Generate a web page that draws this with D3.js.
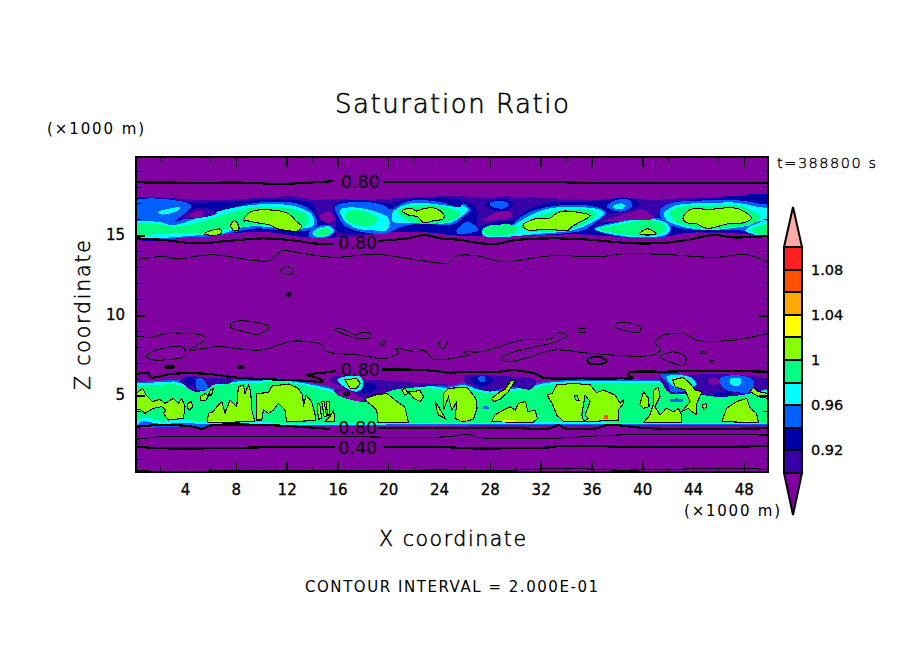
<!DOCTYPE html>
<html><head><meta charset="utf-8">
<style>html,body{margin:0;padding:0;background:#fff}svg{display:block}text{font-family:"DejaVu Sans",sans-serif;fill:#000}</style>
<script src="https://cdn.jsdelivr.net/npm/d3@7"></script></head><body>
<svg id="chart" width="904" height="654"></svg>
<script>
// ---------- data: all positions are [x km, z km] ----------
const xMajor=[4,8,12,16,20,24,28,32,36,40,44,48];
const xMinor=[2,6,10,14,18,22,26,30,34,38,42,46];
const zMajor=[5,10,15];
const zMinor=[1,2,3,4,6,7,8,9,11,12,13,14,16,17,18,19];
const levels=[0.90,0.92,0.94,0.96,0.98,1.00,1.02,1.04,1.06,1.08,1.10];
const levelLabels=[[1.08,"1.08"],[1.04,"1.04"],[1.00,"1"],[0.96,"0.96"],[0.92,"0.92"]];
const colours=["#3800a8","#0000a8","#0060ff","#00ffff","#00ff80","#88ff00","#ffff00","#ffa800","#ff5000","#ff2020"];
const below="#8000a0", above="#ffa8a8";
const contourLabels=[[17.8,18.3,"0.80"],[17.6,14.5,"0.80"],[17.8,6.55,"0.80"],[17.6,2.92,"0.80"],[17.6,1.68,"0.40"]];

const indigoAreas=[
[[0.14,17.4],[2.3,17.35],[4.9,17.2],[7.5,17.2],[10.2,17.35],[12.8,17.4],[14.1,17.2],[15.4,17.25],[18,17.2],[20.7,17.3],[23.3,17.4],[27.5,17.4],[30.1,17.4],[32.7,17.3],[36,17.2],[39.3,17.3],[40.6,17.2],[43.2,17.3],[45.9,17.4],[49.9,17.45],[50.3,17.45],[50.3,15.0],[49.9,15.0],[47.2,15.1],[44.6,15.15],[41.9,15.3],[39.3,14.95],[36.7,14.95],[33.4,15.1],[30.1,15.0],[27.5,14.95],[24.9,15.0],[23.3,15.15],[20.7,15.2],[18,14.95],[14.1,14.85],[12.8,15.1],[10.2,15.2],[7.5,15.1],[4.9,14.9],[2.3,14.85],[0.14,14.9],[-0.3,14.9],[-0.3,17.4]]];
const darkAreas=[
[[-0.3,17.19],[2.3,17.15],[4.9,17.02],[7.5,17.08],[10.2,17.19],[12.8,17.19],[14.1,16.87],[14.4,16.14],[15.4,15.6],[15.9,14.95],[13.6,14.85],[10.2,15.2],[7.5,15.1],[4.9,14.9],[-0.3,14.9]],
[[15.7,16.9],[17.5,17.2],[19.9,17.0],[22.2,17.3],[25.7,17.2],[26.5,17.0],[27,16.5],[27,15.5],[27.5,15.0],[24.9,15.0],[23.3,15.15],[20.7,15.2],[18,15.05],[16,15.2],[15.9,16]],
[[27.6,16.87],[28.8,17.29],[29.9,16.98],[29.3,16.52],[28.2,16.56]],
[[27.1,15.1],[27.1,15.48],[28.3,15.77],[29.9,15.98],[30.9,16.56],[32.7,17.02],[35.4,17.08],[37.2,17.19],[38.3,17.35],[39.4,17.19],[39.8,16.87],[38.8,16.52],[37.2,16.25],[36.4,15.56],[38,16.04],[39.8,16.25],[41.1,16.14],[41.9,16.56],[43.2,17.08],[45.9,17.29],[50.3,17.35],[50.3,15.0],[47.2,15.2],[43.2,15.1],[42.2,14.94],[40.6,14.79],[38.5,14.85],[35.4,15.06],[32.7,15],[30.1,14.94],[27.5,14.94]]];
const blueAreas=[
[[-0.3,17.02],[4.1,17.02],[4.5,16.77],[3.2,15.83],[4.9,16.25],[6.5,16.35],[8.6,16.87],[10.7,17.08],[12.8,16.98],[14,16.46],[14.4,15.73],[13.8,15.31],[11.5,15.31],[9.6,15.42],[8.1,15.21],[6.5,14.94],[4.9,14.89],[-0.3,14.94]],
[[15.8,16.77],[17.5,17.08],[19.6,16.87],[20.2,16.6],[21.2,17.02],[22.2,17.19],[24.3,17.02],[25.7,16.67],[25.9,16.98],[26.5,16.56],[25.9,16.14],[25.5,15.83],[24.9,15.62],[23.3,15.69],[21.5,15.62],[20.4,15.31],[19.9,15.1],[17.8,15.21],[16.5,15.62],[16,16.25]],
[[13.8,15.21],[14.5,15.56],[15.4,15.62],[15.8,15.31],[15.4,14.89],[14.4,14.79],[13.8,14.89]],
[[30,15.83],[30.9,16.35],[32.7,16.77],[35.4,16.87],[36.7,16.67],[37.2,16.35],[36.4,15.83],[35.4,15.31],[33.8,15.1],[31.2,15],[27.5,14.94],[27.4,15.31],[28.3,15.62],[29.9,15.69]],
[[36.2,15.41],[38,15.83],[39.8,16.14],[41.7,15.94],[42.3,15.52],[42,15],[40.6,14.79],[38.5,14.89],[37,15.1]],
[[41.4,16.56],[42.2,16.98],[44.3,17.14],[47.4,17.19],[49,16.98],[50.3,16.73],[50.3,15],[48.5,15.2],[47.4,15.31],[44.8,15.31],[43.2,15.41],[42.2,15.62],[41.5,16.04]],
[[25.4,15.31],[26.2,15.83],[27.1,15.31],[26.2,15.1],[25.4,15.1]],
[[37.2,16.77],[38,17.19],[39,17.19],[39.2,16.77],[38.3,16.46]],
[[28,16.98],[28.8,17.14],[29.5,16.94],[29.1,16.67],[28.3,16.73]]];
const cyanAreas=[
[[-0.3,15.73],[1.8,15.83],[3.1,15.62],[4.9,16.04],[7,16.56],[8.6,16.81],[10.7,16.94],[12.8,16.77],[14,16.25],[14.1,15.62],[13.3,15.41],[11.5,15.41],[9.6,15.56],[8.1,15.41],[7,15.1],[5.4,15],[-0.3,15]],
[[1.9,16.46],[2.6,16.62],[3.6,16.73],[3.5,16.56],[2.6,16.31],[2,16.31]],
[[16.2,16.56],[17,16.73],[18.6,16.56],[19.9,16.14],[20.1,15.83],[19.9,15.31],[18.6,15.31],[17.5,15.41],[16.5,15.94]],
[[20.3,16.35],[21.2,16.87],[22.5,17.02],[24.3,16.87],[25.7,16.77],[25.7,16.87],[26.3,16.6],[25.7,16.14],[24.9,15.77],[23.3,15.73],[21.5,15.77],[20.4,15.83]],
[[14,15.1],[14.6,15.46],[15.4,15.52],[15.7,15.27],[15.3,14.98],[14.4,14.89]],
[[30.1,15.73],[31.2,16.25],[32.7,16.67],[35.4,16.73],[36.7,16.56],[37,16.35],[35.9,15.73],[34.6,15.31],[32.2,15.1],[27.5,14.96],[27.4,15.31],[28,15.6],[29.9,15.64]],
[[36.3,15.35],[38.5,15.83],[40.4,16.04],[41.9,15.73],[42.2,15.31],[41.7,15],[39.6,14.85],[38,15]],
[[41.7,16.35],[42.7,16.87],[44.8,16.98],[47.4,17.02],[49,16.77],[50.3,16.56],[50.3,16.04],[49,15.83],[48.5,15.62],[46.9,15.41],[45.1,15.31],[43,15.56],[41.9,15.94]],
[[48.1,15.31],[50.3,15.9],[50.3,15],[48.5,15.1]],
[[37.7,16.77],[38.3,16.98],[38.65,16.87],[38.5,16.67],[38,16.6]]];
const greenAreas=[
[[-0.3,15.62],[1.5,15.73],[3.1,15.52],[5.2,15.83],[7.3,16.35],[8.9,16.67],[11,16.77],[12.8,16.56],[13.7,16.14],[13.6,15.62],[12.8,15.48],[9.6,15.62],[8.1,15.48],[6.8,15.31],[5.4,15.1],[4.1,15.15],[-0.3,15.15]],
[[16.6,16.35],[17.5,16.56],[18.6,16.35],[19.2,15.94],[18.6,15.56],[17.5,15.62],[16.7,15.94]],
[[20.7,16.46],[21.5,16.77],[23.3,16.87],[24.9,16.67],[25.7,16.35],[25.5,16.1],[24.6,15.83],[22.8,15.69],[21.2,16.04]],
[[14.2,15.1],[14.6,15.35],[15.3,15.4],[15.5,15.2],[15.2,15.04],[14.4,14.98]],
[[27.4,15.31],[28,15.56],[29.9,15.62],[30.3,15.41],[29.7,15.06],[27.8,15],[27.4,15.2]],
[[30.4,15.52],[31.4,16.04],[33,16.46],[35.4,16.6],[36.4,16.35],[35.9,15.94],[34.6,15.41],[32.7,15.2],[31.2,15.2]],
[[36.6,15.35],[38.5,15.69],[40.4,15.94],[41.7,15.69],[41.9,15.31],[41.1,15],[39.7,14.94],[38,15.1]],
[[42.2,16.46],[43.2,16.77],[45.1,16.81],[47.4,16.87],[48.5,16.56],[49.3,16.14],[48.8,15.73],[46.9,15.48],[45.1,15.35],[43,15.69],[42.3,16.04]],
[[48.5,15.31],[50.3,15.69],[50.3,15.06],[48.8,15.14]]];
const purpleHoles=[
[[27.5,15.89],[28.3,16.35],[29.6,16.46],[29.7,16.14],[28.5,15.94]],
[[37,15.83],[38.8,16.35],[40.1,16.56],[40.9,16.04],[39,15.94]],
[[14.8,16.35],[15.4,16.46],[15.8,15.94],[15.2,15.77],[14.6,16.04]]];
const indigoHoles=[[[3.6,16.04],[4.9,16.67],[6.2,16.56],[6.5,16.35],[4.9,16.04]]];
const purpleInHole=[[[4.3,16.25],[5.3,16.5],[5.4,16.25],[4.7,16.04]]];

const lowBlueStrip=[[0.14,5.8],[3.1,5.95],[5.4,5.8],[6.5,5.9],[8.6,5.95],[11.5,6.04],[13.3,5.85],[15.4,5.5],[15.9,5.35],[17.8,5.1],[19.9,5.45],[21.5,5.75],[23.3,5.68],[24.6,5.52],[25.9,5.75],[27,5.45],[28.8,5.35],[31.2,5.65],[32.5,5.85],[34.1,5.94],[38,6],[41.4,5.94],[42.3,5.6],[43.2,5.3],[44.8,5.4],[45.9,5.2],[47.7,5.3],[49.9,5.4],[49.9,3.1],[38,3.1],[27.5,3.1],[15.9,3.05],[7,3.05],[0.14,2.95]];
const lowCyanStrip=[[0.14,5.72],[3.1,5.85],[3.9,5.7],[4.5,5.6],[5.4,5.7],[6.5,5.8],[8.6,5.86],[11.5,5.95],[13.3,5.75],[15.4,5.4],[15.9,5.25],[17,5.2],[17.8,5.0],[18.6,5.15],[19.9,5.36],[21.5,5.65],[23.3,5.58],[24.6,5.42],[25.9,5.65],[27,5.35],[28,5.25],[28.8,5.25],[31.2,5.55],[32.5,5.77],[34.1,5.86],[38,5.9],[41.4,5.85],[42.3,5.5],[43.2,5.2],[44.8,5.3],[45.9,5.1],[47.7,5.2],[49.9,5.3],[49.9,3.17],[43.2,3.17],[38,3.17],[32.7,3.22],[27.5,3.17],[21.5,3.17],[15.9,3.13],[12,3.13],[9.6,3.22],[7,3.13],[4.1,3.25],[2,3.2],[0.6,3.4],[0.14,3.05]];
const lowGreenStrip=[[0.14,5.56],[3.1,5.69],[3.9,5.52],[4.66,5.21],[5.45,5.42],[6.5,5.63],[8.6,5.73],[11.5,5.84],[13.3,5.63],[15.4,5.21],[15.9,5.1],[17.8,4.59],[18.6,4.9],[19.9,5.21],[21.5,5.52],[23.3,5.42],[24.6,5.27],[24.9,5.42],[25.9,5.52],[27,5.21],[28,5.1],[28.8,5.1],[31.2,5.42],[32.5,5.63],[34.1,5.73],[38,5.77],[41.4,5.73],[42.1,5.31],[43.2,4.94],[44.8,5.1],[45.9,4.9],[47.7,5],[49.9,5.1],[49.9,3.27],[43.2,3.27],[38,3.27],[32.7,3.34],[27.5,3.27],[21.5,3.27],[15.9,3.23],[12,3.23],[9.6,3.34],[7,3.23],[4.1,3.44],[2,3.4],[0.7,3.65],[0.14,3.23]];
const lowIndigoPatches=[
[[3.6,5.94],[4.1,6.19],[6,6.04],[7.8,5.98],[7.5,5.73],[6.2,5.63],[5.7,5.32],[4.7,5.21],[4.1,5.52]],
[[15.3,6.04],[16.5,6.19],[18.6,5.94],[20.4,5.9],[22.8,5.73],[24.9,5.69],[22.8,5.52],[20.4,5.32],[19.1,4.9],[18.3,4.59],[17.8,4.59],[16,5],[15.7,5.32],[16.5,5.42],[15.7,5.73]],
[[25.9,6.15],[27.5,6.25],[29.6,6.15],[31.2,6.04],[31.7,5.84],[31.2,5.36],[29.6,5.52],[28,5.21],[27,5.42],[26.2,5.73]],
[[41.35,6.31],[43.2,6.25],[45.3,6.31],[47.4,6.25],[49.9,5.94],[49.9,5.52],[48.5,5.1],[47.2,4.94],[45.6,4.9],[44,5.1],[42.2,5.1],[41.7,5.52]]];
const lowDarkPatches=[
[[3.9,5.9],[4.4,6.15],[4.8,5.94],[4.66,5.69],[4.1,5.69]],
[[18,5.69],[18.8,5.73],[19.1,5.42],[18,5.1]],
[[26.5,6.04],[27.5,6.19],[28.3,5.94],[27.5,5.52],[26.7,5.73]],
[[45.6,5.1],[47.05,5.21],[46.9,4.94],[45.9,4.9]]];
const lowBluePatches=[
[[4.9,5.98],[5.3,6.04],[5.8,5.42],[5,5.32]],
[[27.1,6.1],[27.6,6.19],[27.6,5.84],[27.2,5.84]],
[[41.4,6.25],[42.3,6.31],[43.8,6.15],[44.3,5.63],[43.2,5.21],[42.3,5.21],[42,5.73]],
[[46.1,6.04],[48,6.19],[48.8,5.84],[48.5,5.21],[47.2,5.21],[46.4,5.42]],
[[42.2,4.73],[43.2,4.73],[43.2,4.6],[42.2,4.6]],
[[27.5,4.27],[27.9,4.27],[27.9,4.15],[27.5,4.15]]];
const lowCyanPatches=[
[[16,5.98],[17.8,6.15],[18,5.52],[17.5,5.21],[16.7,5.42]],
[[41.9,6.15],[43.8,6.1],[44.2,5.63],[42.5,5.52]],
[[46.9,5.98],[47.7,6.04],[47.7,5.63],[47,5.63]]];
const lowGreenPatches=[
[[16.5,5.9],[17.65,6.04],[17.8,5.63],[17.4,5.31],[16.9,5.52]],
[[42.5,5.94],[43.6,6.04],[44,5.63],[42.7,5.56]]];
const lowPurplePatches=[
[[15.9,5.1],[16.7,5.31],[18,4.69],[17.8,4.59],[16.5,4.86]],
[[45.2,5.94],[45.9,6.04],[46.1,5.73],[45.3,5.69]]];

const limeUpper=[
[[8.6,15.89],[9.2,16.46],[12,16.39],[12.8,15.83],[13.2,15.52],[12.7,15.21],[12.3,15.25],[11.2,15.41],[10.7,15.62],[9.6,15.77],[8.9,15.89]],
[[5.5,15.06],[6,15.27],[6.8,15.35],[6.8,15.06]],
[[7.6,15.62],[7.9,15.89],[8.2,15.62],[8.2,15.31],[7.8,15.31]],
[[21.1,16.52],[21.85,16.67],[22.2,16.5],[22.9,16.67],[23.7,16.67],[24.4,16.25],[24.3,16],[23.55,15.89],[22.8,15.77],[22.3,16.14],[21.6,16.25]],
[[30.6,15.62],[31.3,15.94],[31.75,16.04],[32.7,16.04],[33.3,16.39],[33.9,16.5],[35.9,16.2],[35.4,15.94],[34.45,15.52],[34.1,15.27],[33.3,15.31],[32.2,15.35],[31,15.31]],
[[39.8,15.06],[40.4,15.39],[41.1,15.06]],
[[43.2,16.04],[43.8,16.6],[45.3,16.6],[46.9,16.71],[47.7,16.6],[48.6,16.04],[48,15.77],[46.7,15.69],[45.1,15.41],[44.3,15.69],[43.5,15.77]]];
const limeLower=[
[[0.14,4.06],[0.14,5.1],[0.67,5.42],[0.93,5],[1.45,4.59],[2,4.73],[2.43,4.48],[3.08,4.79],[3.47,4.48],[3.74,4.79],[4,4.27],[3.87,3.54],[2.69,3.44],[2.3,3.86],[2.5,4.06],[2.16,4.27],[1.5,4.17],[0.85,3.86],[0.46,4.1]],
[[4.2,4.48],[4.5,4.59],[4.6,4.27],[4.34,4.06],[4.2,4.17]],
[[5.2,4.9],[5.6,5.1],[5.84,4.9],[5.6,4.65],[5.23,4.65]],
[[6,5.31],[6.23,5.42],[6.1,5],[5.84,5]],
[[5.76,3.27],[5.84,3.86],[6.23,3.96],[6.5,4.27],[6.9,4.59],[7.15,3.86],[7.54,4.69],[8.07,4.27],[8.2,5.52],[8.6,5.63],[8.72,5.1],[8.99,5.63],[9.17,5.21],[9.25,4.06],[9.5,3.34]],
[[9.6,3.44],[9.64,5.1],[10.56,5.15],[10.82,5.56],[12.14,5.69],[12.92,5.42],[13.27,5],[13.32,4.27],[13.53,5],[13.97,4.59],[14.3,3.6],[14.3,3.4],[12,3.34],[11.87,4.06],[11.35,4.48],[10.96,4.06],[10.56,3.86],[10.17,4.06],[10.04,3.44]],
[[14.4,4.48],[14.6,4.48],[14.76,3.54],[14.5,3.48]],
[[14.76,4.59],[14.95,4.59],[15.15,3.65],[14.95,3.65]],
[[15.15,4.59],[15.4,4.59],[15.4,3.75],[15.2,3.75]],
[[15,3.34],[15.4,3.65],[15.7,4.06],[15.8,3.34]],
[[18.2,4.79],[19,5],[19.9,5.1],[20.7,4.59],[21.3,4.27],[21.6,3.27],[19.2,3.27],[19.1,4.06],[18.83,4.27],[18.3,4.59]],
[[21.06,5.31],[21.3,5.42],[21.6,5.1],[21.3,5]],
[[21.6,5.21],[22.5,5.27],[22.8,4.9],[22.5,4.59],[22,4.79]],
[[23.7,4.59],[23.95,4.27],[24.5,3.54],[23.95,3.75],[23.8,4.17]],
[[24.35,4.06],[24.35,5.1],[24.74,5.42],[26.2,5.48],[26.9,4.79],[27,4.17],[26.7,3.48],[25.9,3.34],[25.26,3.54],[25.4,4.59],[25,4.06],[24.74,4.9]],
[[28.15,4.79],[28.8,5.21],[29.2,5.36],[29.7,5.94],[30,5.9],[29.46,5.21],[28.8,4.73],[28.3,4.59]],
[[28.15,3.34],[28.4,3.75],[29.07,4.06],[29.6,4.27],[30,4.06],[30.25,4.48],[30.8,4.59],[31,3.96],[31.56,4.06],[31.75,3.54],[31.4,3.27]],
[[32.5,5],[32.9,5.1],[33.27,5.63],[34.6,5.73],[35.9,5.63],[36.4,5.15],[36.95,5.31],[37.86,5],[38.26,4.48],[38.5,4.69],[38.5,4.44],[38.1,4.06],[38.1,3.44],[35.9,3.34],[33.8,3.34],[33.27,3.75],[32.9,4.48]],
[[39.8,4.38],[40.1,5.21],[40.5,4.79],[40.54,4.27],[40.1,4.17]],
[[40.1,3.27],[40.6,3.75],[40.9,4.48],[40.9,5.31],[41.27,5.48],[41.4,4.9],[41,4.27],[41.4,3.75],[41.9,4.17],[42.45,3.96],[42.85,4.17],[43.1,3.75],[43.1,3.27]],
[[42.4,5.94],[43.2,6.1],[43.77,5.73],[44.16,5.31],[44.7,5.21],[44.3,4.48],[44.3,3.75],[43.9,3.96],[43.64,4.17],[43.1,3.96],[43.77,4.59],[43.37,5.31],[42.6,5.52]],
[[44.7,4.38],[45.08,4.48],[45.08,4.27],[44.87,4.06]],
[[46.26,3.34],[46.65,4.17],[47.44,4.59],[48.23,4.79],[48.5,4.17],[49,3.86],[49.15,3.27]],
[[48.5,5.21],[48.75,5.48],[49.15,5.21],[49.9,5.1],[49.9,4.79],[49.15,4.9]],
[[16.6,5.94],[17.5,6.04],[17.8,5.73],[17.5,5.42],[17,5.42]]];
const limeNotches=[
[[34.63,4.94],[34.84,5],[35.05,4.65],[34.8,4.65]],
[[35.5,5],[35.9,4.59],[35.5,3.75],[35.76,3.54],[35.4,3.34],[35.24,3.75]]];
const yellowSpots=[
[[28.94,3.44],[30,3.44],[30,3.3],[28.94,3.3]],
[[47.97,3.38],[48.5,3.38],[48.5,3.3],[47.97,3.3]],
[[6.1,3.4],[6.9,3.4],[6.9,3.3],[6.1,3.3]]];
const orangeSpots=[[[25.8,3.54],[26.2,3.48],[26.2,3.38],[25.66,3.38]]];
const redSpots=[[[36.98,3.75],[37.28,3.75],[37.28,3.5],[36.98,3.5]]];

const thickLines=[
[[0.14,18.29],[4.9,18.27],[8.9,18.27],[11.2,18.19],[12.8,18.23],[15.7,18.37]],
[[19.6,18.29],[23.3,18.33],[25.7,18.29],[27.2,18.31],[31.2,18.33],[35.4,18.27],[40.6,18.27],[49.9,18.27]],
[[0.14,14.79],[2.3,14.69],[4.9,14.48],[7.5,14.64],[10.2,14.79],[12.8,14.64],[14.1,14.48],[15.7,14.44]],
[[19.2,14.64],[21.5,14.79],[22.9,15],[24.1,14.79],[25.7,14.69],[26.4,14.58],[28.3,14.44],[30.1,14.69],[32.7,14.79],[35.4,14.73],[39.3,14.48],[41.9,14.52],[43.8,14.73],[45.6,15],[47.2,14.85],[49.9,14.94]],
[[0.14,6.31],[1.1,6.36],[1.3,6.1],[2.8,6.31],[4.4,6.36],[6,6.31],[8.07,6.09],[10.7,5.98],[13.3,5.9],[14.9,5.84],[14.1,6.15],[13.5,6.25],[15.4,6.44],[15.9,6.5]],
[[19.5,6.6],[22.8,6.56],[24.87,6.4],[26.2,6.46],[28.8,6.46],[29.7,6.56],[30.5,6.5],[31.7,6.3],[32.1,6.1],[35.4,6.04],[38.5,6.04],[39.3,6.04],[38.9,6.25],[39,6.4],[41.7,6.46],[45.9,6.5],[49.9,6.46]],
[[0.14,3.02],[2.3,3.13],[4.9,2.98],[5.3,2.86],[6,3.09],[10.2,3.13],[15.4,2.88]],
[[19.2,2.92],[24.87,2.92],[30.1,2.92],[32.7,2.92],[33.4,3.13],[33.9,2.92],[36.4,2.92],[37.2,3.13],[40.6,2.92],[49.9,2.92]],
[[0.14,1.77],[2.3,1.67],[6.2,1.67],[10.2,1.73],[15.8,1.73]],
[[19.6,1.77],[24.87,1.73],[26.2,1.67],[32.7,1.73],[33.5,1.81],[41.7,1.73],[49.9,1.81]]];
const thickRings=[
[[35.7,7.19],[36.2,7.39],[36.8,7.35],[37.2,7.08],[36.65,6.94],[35.85,6.98]],
[[2.43,6.78],[3.08,6.82],[3.08,6.72],[2.43,6.72]],
[[8.2,6.76],[8.6,6.76],[8.6,6.7],[8.2,6.7]],
[[12,11.33],[12.3,11.33],[12.3,11.24],[12,11.24]],
[[16.55,5.14],[16.9,5.14],[16.9,5.04],[16.55,5.04]]];
const thinLines=[
[[0.14,13.45],[2.4,13.65],[3.2,13.5],[6.1,13.77],[10.6,13.4],[11.6,14.0],[13.2,13.85],[15.75,13.6],[19,13.8],[22.2,13.45],[24.75,13.27],[25.4,13.7],[27,13.7],[29,13.33],[32.8,13.7],[36.7,13.65],[38.6,13.83],[42.1,13.77],[45.65,13.6],[48.2,13.77],[49.9,13.3]],
[[0.15,8.7],[1.3,8.6],[2.56,8.85],[5.46,8.69],[5.62,8.48],[4.33,7.81],[6.58,8.02],[9.96,7.81],[12.53,8.37],[14.8,8.12],[15.1,7.75],[17.7,7.5],[19.8,7.29],[20.8,7.64],[20.57,7.91],[22.2,7.7],[22.8,7.81],[23.6,7.23],[25.7,7.39],[26.36,7.5],[25.9,7.7],[27.3,7.7],[30.5,8.44],[32.8,8.54],[33.4,8.91],[34.1,8.69],[32.8,8.23],[31,7.91],[29.9,7.7],[28.9,7.29],[29.4,7.08],[31,7.35],[33.1,7.81],[36,7.6],[40.8,7.5],[41.5,7.91],[41,8.23],[41.5,8.69],[43.4,8.81],[44.2,8.44],[47.3,8.44],[49.9,8.85]],
[[0.14,2.23],[2.3,2.4],[7.5,2.4],[15.4,2.4],[24.87,2.4],[26.2,2.56],[27,2.36],[32.7,2.29],[38,2.5],[49.9,2.5]],
[[0.14,0.31],[2.3,0.21],[7.5,0.27],[15.4,0.27],[24.87,0.31],[27.5,0.25],[34.1,0.42],[38,0.31],[48.5,0.42],[49.9,0.31]]];
const thinRings=[
[[11.5,12.8],[12.05,13],[12.5,12.9],[12.5,12.64],[11.9,12.56],[11.6,12.64]],
[[7.55,9.37],[7.9,9.58],[9.3,9.58],[10.6,9.27],[9.8,8.81],[8.35,9.02],[7.7,9.16]],
[[15.75,9.06],[16.2,9.16],[17.5,8.75],[17.7,8.85],[18.5,8.9],[18.6,8.6],[17.5,8.54],[16.7,8.75]],
[[19.45,8.3],[19.75,8.3],[19.75,8.12],[19.45,8.12]],
[[23.95,8.29],[24.65,8.29],[24.3,7.85]],
[[34.9,9.12],[35.5,9.12],[35.5,8.95],[34.9,8.95]],
[[37.8,9.31],[38.1,9.52],[39.9,9.27],[39.7,8.92],[37.9,9.23]],
[[0.96,7.43],[1.92,7.85],[3.85,7.98],[4,7.43],[2.9,7.23],[1.28,7.23]],
[[41.4,7.39],[42.4,7.7],[43.4,7.39],[43.3,6.87],[42.1,7.08]],
[[44.6,7.7],[45,7.7],[45,7.62],[44.6,7.62]],
[[45.35,7.12],[45.65,7.12],[45.65,6.98],[45.35,6.98]]];

// ---------- drawing ----------
const svg=d3.select("#chart");
const box={l:136,r:768,t:157,b:472};
const x=d3.scaleLinear().domain([0.14,49.9]).range([box.l,box.r]);
const z=d3.scaleLinear().domain([0.19,19.875]).range([box.b,box.t]);
const straight=d3.line().x(d=>x(d[0])).y(d=>z(d[1]));
const smooth=d3.line().x(d=>x(d[0])).y(d=>z(d[1])).curve(d3.curveCatmullRom.alpha(0.5));
const smoothRing=d3.line().x(d=>x(d[0])).y(d=>z(d[1])).curve(d3.curveCatmullRomClosed.alpha(0.5));
const ring=d=>straight(d)+"Z";

svg.append("clipPath").attr("id","plot").append("rect")
  .attr("x",box.l).attr("y",box.t).attr("width",box.r-box.l).attr("height",box.b-box.t);
const plot=svg.append("g").attr("clip-path","url(#plot)").attr("shape-rendering","crispEdges");
plot.append("rect").attr("x",box.l).attr("y",box.t).attr("width",box.r-box.l).attr("height",box.b-box.t).attr("fill",below);

function fills(list,colour,stroke,gen){
  plot.append("g").selectAll("path").data(list).join("path").attr("d",gen||ring)
    .attr("fill",colour).attr("stroke",stroke||"none").attr("stroke-width",stroke?1.1:0);
}
const [c090,c092,c094,c096,c098,c100,c102,c104,c106]=colours;
fills(indigoAreas,c090,null,smoothRing); fills(darkAreas,c092,null,smoothRing); fills(blueAreas,c094,null,smoothRing);
fills(cyanAreas,c096,null,smoothRing); fills(greenAreas,c098,null,smoothRing);
fills(purpleHoles,below,null,smoothRing); fills(indigoHoles,c090,null,smoothRing); fills(purpleInHole,below,null,smoothRing);
fills(limeUpper,c100,"#000",smoothRing);
fills([lowBlueStrip],c094); fills([lowCyanStrip],c096); fills([lowGreenStrip],c098);
fills(lowIndigoPatches,c090,null,smoothRing); fills(lowDarkPatches,c092,null,smoothRing); fills(lowBluePatches,c094,null,smoothRing); fills(lowCyanPatches,c096,null,smoothRing);
fills(lowGreenPatches,c098,null,smoothRing); fills(lowPurplePatches,below,null,smoothRing);
fills(limeLower,c100,"#000"); fills(limeNotches,c098,"#000");
fills(yellowSpots,c102); fills(orangeSpots,c104); fills(redSpots,c106);

plot.append("g").selectAll("path").data(thickLines).join("path").attr("d",smooth).attr("fill","none").attr("stroke","#000").attr("stroke-width",2.2);
plot.append("g").selectAll("path").data(thickRings).join("path").attr("d",smoothRing).attr("fill","none").attr("stroke","#000").attr("stroke-width",2.2);
plot.append("g").selectAll("path").data(thinLines).join("path").attr("d",smooth).attr("fill","none").attr("stroke","#000").attr("stroke-width",1.1);
plot.append("g").selectAll("path").data(thinRings).join("path").attr("d",smoothRing).attr("fill","none").attr("stroke","#000").attr("stroke-width",1.1);

svg.append("g").selectAll("text").data(contourLabels).join("text")
  .attr("x",d=>x(d[0])).attr("y",d=>z(d[1])).attr("text-anchor","middle").attr("dominant-baseline","central")
  .attr("font-size",17.5).text(d=>d[2]);

// axes with inward ticks
function axisLayer(gen,tx,ty,cls,width){
  const g=svg.append("g").attr("transform",`translate(${tx},${ty})`).attr("class",cls).call(gen);
  g.select(".domain").remove();
  g.selectAll("line").attr("stroke","#000").attr("stroke-width",width).attr("shape-rendering","crispEdges");
  g.selectAll("text").attr("font-size",15).attr("stroke","#000").attr("stroke-width",0.3).attr("fill","#000");
  return g;
}
const fmt=d3.format("d");
axisLayer(d3.axisBottom(x).tickValues(xMajor).tickSize(-10).tickPadding(12).tickFormat(fmt),0,box.b,"xb",1.5);
axisLayer(d3.axisBottom(x).tickValues(xMinor).tickSize(-5).tickFormat(""),0,box.b,"xbm",1);
axisLayer(d3.axisTop(x).tickValues(xMajor).tickSize(-10).tickFormat(""),0,box.t,"xt",1.5);
axisLayer(d3.axisTop(x).tickValues(xMinor).tickSize(-5).tickFormat(""),0,box.t,"xtm",1);
axisLayer(d3.axisLeft(z).tickValues(zMajor).tickSize(-9).tickPadding(11).tickFormat(fmt),box.l,0,"zl",2);
axisLayer(d3.axisLeft(z).tickValues(zMinor).tickSize(-5).tickFormat(""),box.l,0,"zlm",1);
axisLayer(d3.axisRight(z).tickValues(zMajor).tickSize(-9).tickFormat(""),box.r,0,"zr",2);
axisLayer(d3.axisRight(z).tickValues(zMinor).tickSize(-5).tickFormat(""),box.r,0,"zrm",1);

svg.append("rect").attr("x",box.l).attr("y",box.t).attr("width",box.r-box.l).attr("height",box.b-box.t)
  .attr("fill","none").attr("stroke","#000").attr("stroke-width",2.4).attr("shape-rendering","crispEdges");

// colour bar
const cb=d3.scaleLinear().domain([0.90,1.10]).range([473,247]);
const cbL=784, cbR=802, cbMid=793;
const cbg=svg.append("g");
cbg.selectAll("rect").data(colours).join("rect")
  .attr("x",cbL).attr("width",cbR-cbL)
  .attr("y",(d,i)=>cb(levels[i+1])).attr("height",(d,i)=>cb(levels[i])-cb(levels[i+1]))
  .attr("fill",d=>d).attr("stroke","#000").attr("stroke-width",2).attr("shape-rendering","crispEdges");
cbg.append("path").attr("d",`M${cbL},${cb(1.10)}L${cbMid},207L${cbR},${cb(1.10)}Z`).attr("fill",above).attr("stroke","#000").attr("stroke-width",2);
cbg.append("path").attr("d",`M${cbL},${cb(0.90)}L${cbMid},515L${cbR},${cb(0.90)}Z`).attr("fill",below).attr("stroke","#000").attr("stroke-width",2);
cbg.selectAll("text").data(levelLabels).join("text")
  .attr("x",811).attr("y",d=>cb(d[0])).attr("dominant-baseline","central")
  .attr("font-size",14.5).attr("stroke","#000").attr("stroke-width",0.3).text(d=>d[1]);

// text
function label(txt,px,py,size,width,rot,weight,outline){
  const t=svg.append("text").attr("font-size",size).attr("dominant-baseline","central").attr("text-anchor","middle")
    .attr("font-weight",weight||400).attr("textLength",width).attr("lengthAdjust","spacing")
    .attr("stroke","#000").attr("stroke-width",outline||0).text(txt);
  t.attr("transform",`translate(${px},${py})`+(rot?` rotate(${rot})`:""));
}
label("Saturation Ratio",452,104,26,234,0,200,0.55);
label("(\u00d71000 m)",95.5,129,15,97);
label("t=388800 s",826.5,163,14.5,99,0,200,0.35);
label("(\u00d71000 m)",732,511,15,96);
label("X coordinate",452.5,539,20.5,147,0,200,0.5);
label("Z coordinate",83,315,20.5,150,-90,200,0.5);
label("CONTOUR INTERVAL = 2.000E-01",451.5,587,15,293);
</script></body></html>
